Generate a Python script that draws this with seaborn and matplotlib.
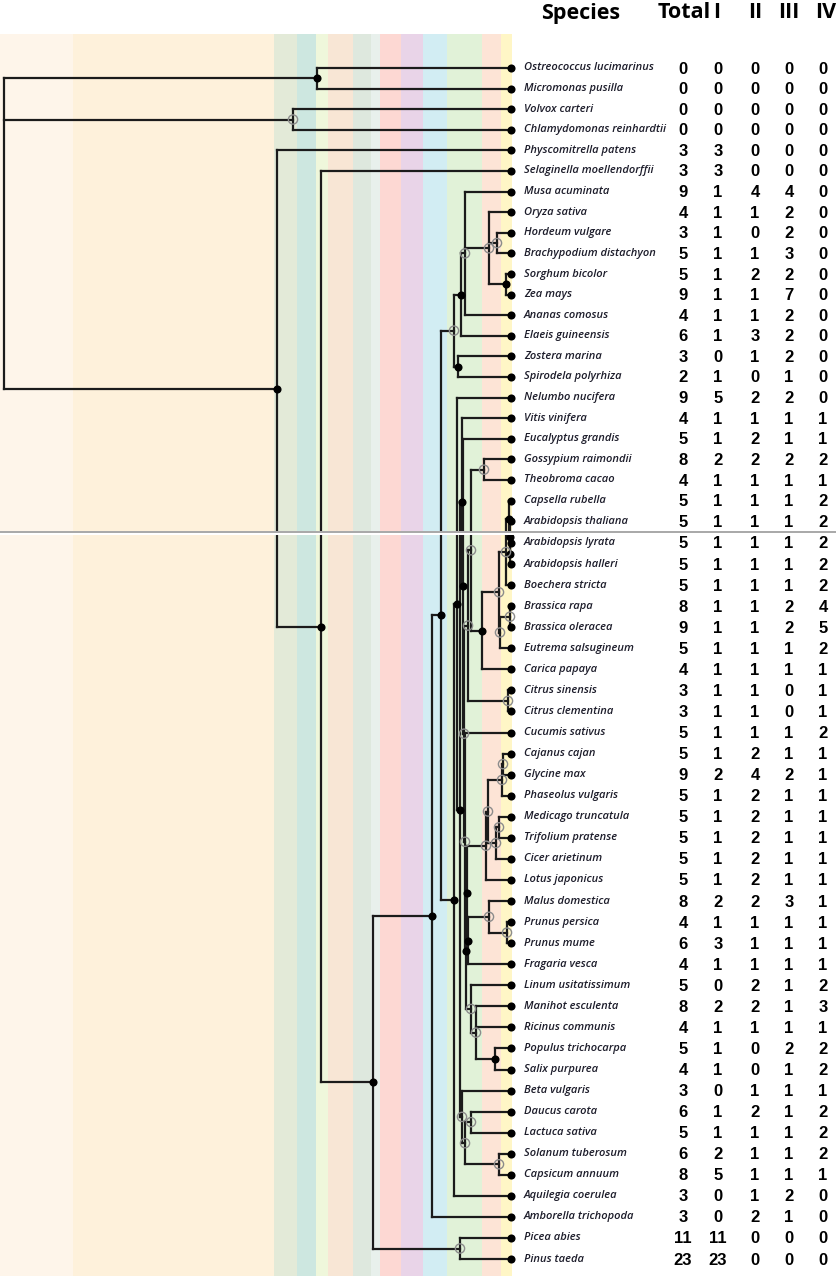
import matplotlib
matplotlib.use("Agg")
import matplotlib.pyplot as plt
from matplotlib.collections import LineCollection
from matplotlib.patches import Rectangle
import pandas as pd
import seaborn as sns

# ---- data ----
species = [
    "Ostreococcus lucimarinus", "Micromonas pusilla", "Volvox carteri",
    "Chlamydomonas reinhardtii", "Physcomitrella patens", "Selaginella moellendorffii",
    "Musa acuminata", "Oryza sativa", "Hordeum vulgare", "Brachypodium distachyon",
    "Sorghum bicolor", "Zea mays", "Ananas comosus", "Elaeis guineensis",
    "Zostera marina", "Spirodela polyrhiza", "Nelumbo nucifera", "Vitis vinifera",
    "Eucalyptus grandis", "Gossypium raimondii", "Theobroma cacao", "Capsella rubella",
    "Arabidopsis thaliana", "Arabidopsis lyrata", "Arabidopsis halleri", "Boechera stricta",
    "Brassica rapa", "Brassica oleracea", "Eutrema salsugineum", "Carica papaya",
    "Citrus sinensis", "Citrus clementina", "Cucumis sativus", "Cajanus cajan",
    "Glycine max", "Phaseolus vulgaris", "Medicago truncatula", "Trifolium pratense",
    "Cicer arietinum", "Lotus japonicus", "Malus domestica", "Prunus persica",
    "Prunus mume", "Fragaria vesca", "Linum usitatissimum", "Manihot esculenta",
    "Ricinus communis", "Populus trichocarpa", "Salix purpurea", "Beta vulgaris",
    "Daucus carota", "Lactuca sativa", "Solanum tuberosum", "Capsicum annuum",
    "Aquilegia coerulea", "Amborella trichopoda", "Picea abies", "Pinus taeda",
]
total = [0, 0, 0, 0, 3, 3, 9, 4, 3, 5, 5, 9, 4, 6, 3, 2, 9, 4, 5, 8, 4, 5, 5, 5, 5, 5, 8, 9, 5,
         4, 3, 3, 5, 5, 9, 5, 5, 5, 5, 5, 8, 4, 6, 4, 5, 8, 4, 5, 4, 3, 6, 5, 6, 8, 3, 3, 11, 23]
type_i = [0, 0, 0, 0, 3, 3, 1, 1, 1, 1, 1, 1, 1, 1, 0, 1, 5, 1, 1, 2, 1, 1, 1, 1, 1, 1, 1, 1, 1,
          1, 1, 1, 1, 1, 2, 1, 1, 1, 1, 1, 2, 1, 3, 1, 0, 2, 1, 1, 1, 0, 1, 1, 2, 5, 0, 0, 11, 23]
type_ii = [0, 0, 0, 0, 0, 0, 4, 1, 0, 1, 2, 1, 1, 3, 1, 0, 2, 1, 2, 2, 1, 1, 1, 1, 1, 1, 1, 1, 1,
           1, 1, 1, 1, 2, 4, 2, 2, 2, 2, 2, 2, 1, 1, 1, 2, 2, 1, 0, 0, 1, 2, 1, 1, 1, 1, 2, 0, 0]
type_iii = [0, 0, 0, 0, 0, 0, 4, 2, 2, 3, 2, 7, 2, 2, 2, 1, 2, 1, 1, 2, 1, 1, 1, 1, 1, 1, 2, 2, 1,
            1, 0, 0, 1, 1, 2, 1, 1, 1, 1, 1, 3, 1, 1, 1, 1, 1, 1, 2, 1, 1, 1, 1, 1, 1, 2, 1, 0, 0]
type_iv = [0, 0, 0, 0, 0, 0, 0, 0, 0, 0, 0, 0, 0, 0, 0, 0, 0, 1, 1, 2, 1, 2, 2, 2, 2, 2, 4, 5, 2,
           1, 1, 1, 2, 1, 1, 1, 1, 1, 1, 1, 1, 1, 1, 1, 2, 3, 1, 2, 2, 1, 2, 2, 2, 1, 0, 0, 0, 0]
headers = ["Species", "Total", "I", "II", "III", "IV"]

# clades: first leaf, last leaf, node depth, node symbol (f = filled, o = open, n = none)
clade_first = [0, 0, 2, 4, 5, 6, 56, 6, 6, 6, 14, 6, 6, 7, 8, 10,
               16, 16, 17, 17, 18, 19, 19, 19, 19, 21, 21, 21, 21, 22, 23, 26, 26, 30,
               32, 33, 33, 33, 33, 33, 33, 36, 36, 40, 40, 41, 44, 45, 47,
               49, 50, 50, 52]
clade_last = [57, 1, 3, 57, 57, 57, 57, 55, 54, 15, 15, 13, 12, 11, 9, 11,
              54, 53, 53, 48, 48, 48, 31, 29, 20, 29, 28, 25, 24, 24, 24, 28, 27, 31,
              48, 48, 43, 39, 38, 35, 34, 38, 37, 43, 42, 42, 48, 48, 48,
              53, 53, 51, 53]
clade_depth = [4, 317, 293, 277, 321, 373, 460, 432, 441, 454, 458, 461, 465, 489, 497, 506,
               454, 457, 460, 462, 463, 464, 468, 471, 484, 482, 499, 506, 509, 510, 510.5, 500, 510, 508,
               465, 466, 467, 486, 488, 502, 503, 496, 499, 468, 489, 507, 471, 476, 495,
               462, 465, 471, 499]
clade_mark = ["n", "f", "o", "f", "f", "f", "o", "f", "f", "o", "f", "f", "o", "o", "o", "f",
              "f", "f", "f", "f", "f", "o", "o", "o", "o", "f", "o", "o", "f", "f", "f", "o", "o", "o",
              "o", "f", "f", "o", "o", "o", "o", "o", "o", "f", "o", "o", "o", "o", "f",
              "o", "o", "o", "o"]
tip_depth = 511

# ---- layout ----
W, H = 837, 1276
seam_y = 532
col_x = [683, 718, 755, 789, 823]
head_x = [581, 684, 717, 755, 789, 826]

band_edges = [0, 73, 274, 297, 316, 328, 353, 371, 380, 401, 423, 447, 482, 501, 512]
band_colors = ["#FEF5EA", "#FEF1DB", "#E3EAD8", "#CDE7E0", "#EFF7DB", "#F8E6D5", "#DEE8DE",
               "#E8F0EC", "#FDD8D3", "#E9D4E8", "#D2EDF3", "#E1F2D8", "#FDE4D6", "#FFF6C6"]


def row_y(i):
    if i < 23:
        return 68 + 20.6 * i
    return 543 + 21.06 * (i - 23)


sns.set_theme(style="white")
plt.rcParams["font.family"] = ["Open Sans", "DejaVu Sans"]

fig = plt.figure(figsize=(W / 100, H / 100), dpi=100)
ax = fig.add_axes([0, 0, 1, 1])
ax.set_xlim(0, W)
ax.set_ylim(H, 0)
ax.axis("off")

for x0, x1, c in zip(band_edges[:-1], band_edges[1:], band_colors):
    ax.add_patch(Rectangle((x0, 34), x1 - x0, H - 34, color=c, lw=0, zorder=0))

# ---- tree ----
clades = list(zip(clade_first, clade_last, clade_depth, clade_mark))
leaf_y = [row_y(i) for i in range(len(species))]
node_y = {}


def children_of(c):
    lo, hi = c[0], c[1]
    inner = [d for d in clades if d is not c and d[0] >= lo and d[1] <= hi
             and not (d[0] == lo and d[1] == hi)]
    top = [d for d in inner if not any(e is not d and e[0] <= d[0] and e[1] >= d[1]
                                       and (e[0], e[1]) != (d[0], d[1]) for e in inner)]
    covered = set()
    for d in top:
        covered.update(range(d[0], d[1] + 1))
    kids = [("clade", d) for d in top] + [("leaf", i) for i in range(lo, hi + 1) if i not in covered]
    return kids


def place(c):
    key = (c[0], c[1])
    if key in node_y:
        return node_y[key]
    ys = []
    for kind, k in children_of(c):
        ys.append(leaf_y[k] if kind == "leaf" else place(k))
    node_y[key] = (min(ys) + max(ys)) / 2
    return node_y[key]


segs = []
for c in clades:
    y = place(c)
    ys = []
    for kind, k in children_of(c):
        if kind == "leaf":
            cy, cx = leaf_y[k], tip_depth
        else:
            cy, cx = place(k), k[2]
        ys.append(cy)
        segs.append([(c[2], cy), (cx, cy)])
    segs.append([(c[2], min(ys)), (c[2], max(ys))])

ax.add_collection(LineCollection(segs, colors="#1b1b1b", linewidths=1.6,
                                 capstyle="projecting", zorder=2))

tips = pd.DataFrame({"x": [tip_depth] * len(species), "y": leaf_y})
sns.scatterplot(data=tips, x="x", y="y", ax=ax, color="black", s=34, linewidth=0,
                zorder=4, legend=False)

nodes = pd.DataFrame({"x": [c[2] for c in clades], "y": [node_y[(c[0], c[1])] for c in clades],
                      "mark": [c[3] for c in clades]})
full = nodes[nodes["mark"] == "f"]
sns.scatterplot(data=full, x="x", y="y", ax=ax, color="black", s=34, linewidth=0,
                zorder=4, legend=False)
hollow = nodes[nodes["mark"] == "o"]
ax.scatter(hollow["x"], hollow["y"], s=44, facecolors="none", edgecolors="#8c8c8c",
           linewidths=1.0, zorder=4)

# seam between the two stitched halves
ax.add_patch(Rectangle((0, seam_y - 1), W, 4, color="white", lw=0, zorder=5))
ax.plot([0, W], [seam_y, seam_y], color="#9a9a9a", lw=1.2, zorder=6)

# ---- text ----
for i, name in enumerate(species):
    ax.text(524, leaf_y[i], name, ha="left", va="center", fontsize=8, style="italic",
            fontweight="semibold", color="#1d1d2b", zorder=7)
    for x, vals in zip(col_x, [total, type_i, type_ii, type_iii, type_iv]):
        ax.text(x, leaf_y[i] + 1, str(vals[i]), ha="center", va="center", fontsize=12,
                fontweight="bold", family=["Liberation Sans", "DejaVu Sans"], color="black",
                zorder=7)

for x, h in zip(head_x, headers):
    ax.text(x, 13, h, ha="center", va="center", fontsize=15.5, fontweight="bold",
            color="black", zorder=7)

fig.savefig("out.png", dpi=100)
